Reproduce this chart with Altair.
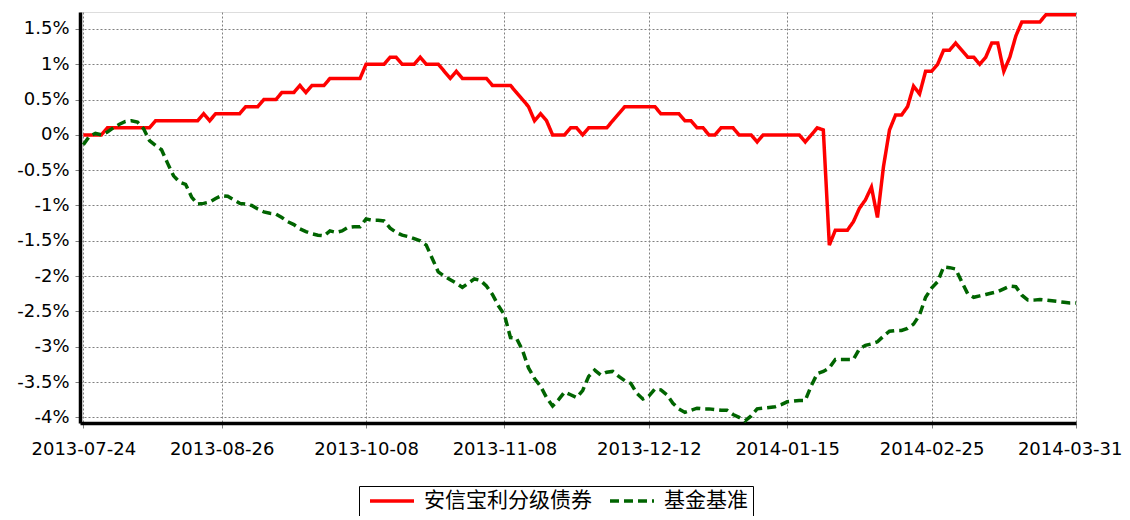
import altair as alt
import pandas as pd

series_names = ["安信宝利分级债券", "基金基准"]
series_colors = ["#FF0000", "#006400"]

tick_index = [0, 23, 47, 70, 94, 117, 141, 165]
tick_labels = ["2013-07-24", "2013-08-26", "2013-10-08", "2013-11-08",
               "2013-12-12", "2014-01-15", "2014-02-25", "2014-03-31"]

fund = [
    0.0, 0.0, 0.0, 0.0, 0.1, 0.1, 0.1, 0.1, 0.1, 0.1,
    0.1, 0.1, 0.2, 0.2, 0.2, 0.2, 0.2, 0.2, 0.2, 0.2,
    0.3, 0.2, 0.3, 0.3, 0.3, 0.3, 0.3, 0.4, 0.4, 0.4,
    0.5, 0.5, 0.5, 0.6, 0.6, 0.6, 0.7, 0.6, 0.7, 0.7,
    0.7, 0.8, 0.8, 0.8, 0.8, 0.8, 0.8, 1.0, 1.0, 1.0,
    1.0, 1.1, 1.1, 1.0, 1.0, 1.0, 1.1, 1.0, 1.0, 1.0,
    0.9, 0.8, 0.9, 0.8, 0.8, 0.8, 0.8, 0.8, 0.7, 0.7,
    0.7, 0.7, 0.6, 0.5, 0.4, 0.2, 0.3, 0.2, 0.0, 0.0,
    0.0, 0.1, 0.1, 0.0, 0.1, 0.1, 0.1, 0.1, 0.2, 0.3,
    0.4, 0.4, 0.4, 0.4, 0.4, 0.4, 0.3, 0.3, 0.3, 0.3,
    0.2, 0.2, 0.1, 0.1, 0.0, 0.0, 0.1, 0.1, 0.1, 0.0,
    0.0, 0.0, -0.1, 0.0, 0.0, 0.0, 0.0, 0.0, 0.0, 0.0,
    -0.1, 0.0, 0.1, 0.07, -1.56, -1.35, -1.35, -1.35, -1.23, -1.04,
    -0.92, -0.74, -1.17, -0.45, 0.07, 0.28, 0.28, 0.4, 0.69, 0.58,
    0.9, 0.9, 1.0, 1.2, 1.2, 1.3, 1.2, 1.1, 1.1, 1.0,
    1.1, 1.3, 1.3, 0.9, 1.1, 1.4, 1.6, 1.6, 1.6, 1.6,
    1.7, 1.7, 1.7, 1.7, 1.7, 1.7,
]

bench = [
    -0.14, -0.02, 0.02, 0.0, 0.04, 0.1, 0.15, 0.19, 0.2, 0.18,
    0.09, -0.08, -0.15, -0.21, -0.4, -0.58, -0.67, -0.7, -0.88, -0.98,
    -0.97, -0.95, -0.9, -0.86, -0.87, -0.92, -0.97, -0.98, -1.0, -1.05,
    -1.09, -1.11, -1.12, -1.17, -1.23, -1.27, -1.33, -1.37, -1.4, -1.42,
    -1.43, -1.36, -1.38, -1.36, -1.31, -1.3, -1.3, -1.19, -1.21, -1.21,
    -1.22, -1.32, -1.38, -1.42, -1.44, -1.47, -1.5, -1.56, -1.75, -1.94,
    -2.0, -2.05, -2.1, -2.16, -2.1, -2.04, -2.06, -2.14, -2.26, -2.42,
    -2.55, -2.87, -2.88, -3.05, -3.3, -3.45, -3.56, -3.72, -3.84, -3.75,
    -3.64, -3.68, -3.72, -3.62, -3.42, -3.33, -3.4, -3.36, -3.35, -3.42,
    -3.48, -3.52, -3.66, -3.74, -3.7, -3.6, -3.61, -3.68, -3.8, -3.88,
    -3.93, -3.9, -3.87, -3.88, -3.88, -3.89, -3.9, -3.9, -3.96, -4.0,
    -4.05, -3.98, -3.88, -3.87, -3.86, -3.85, -3.82, -3.78, -3.77, -3.76,
    -3.76, -3.55, -3.38, -3.35, -3.3, -3.18, -3.18, -3.18, -3.18, -3.03,
    -2.98, -2.96, -2.93, -2.85, -2.78, -2.77, -2.77, -2.74, -2.68, -2.55,
    -2.3, -2.17, -2.08, -1.87, -1.88, -1.9, -2.08, -2.25, -2.3, -2.28,
    -2.26, -2.24, -2.22, -2.18, -2.14, -2.15, -2.27, -2.34, -2.34, -2.33,
    -2.34, -2.35, -2.36, -2.37, -2.38, -2.38,
]

y_ticks = [-4, -3.5, -3, -2.5, -2, -1.5, -1, -0.5, 0, 0.5, 1, 1.5]

rows = []
for name, vals in zip(series_names, [fund, bench]):
    for i, v in enumerate(vals):
        rows.append({"idx": i, "value": v, "series": name})
df = pd.DataFrame(rows)

idx_js = "[" + ",".join(str(t) for t in tick_index) + "]"
lab_js = "[" + ",".join("'" + t + "'" for t in tick_labels) + "]"
x_label_expr = lab_js + "[indexof(" + idx_js + ", datum.value)]"

legend_opts = dict(title=None, orient="none", legendX=279, legendY=474,
                   direction="horizontal",
                   strokeColor="#000000", fillColor="#FFFFFF",
                   padding=5, clipHeight=20,
                   symbolType="stroke", symbolSize=1936,
                   symbolStrokeWidth=3.5, symbolOffset=4,
                   labelFont="Noto Sans CJK SC", labelFontSize=21,
                   labelColor="#000000", labelOffset=8, labelLimit=400,
                   columnPadding=12)

chart = alt.Chart(df).mark_line(strokeWidth=3.5, strokeCap="butt", strokeJoin="miter").encode(
    x=alt.X("idx:Q",
            scale=alt.Scale(domain=[-0.55, 165], nice=False, zero=False),
            axis=alt.Axis(values=tick_index, labelExpr=x_label_expr, title=None,
                          grid=True, gridDash=[2, 2], gridColor="#808080", gridWidth=1,
                          domainColor="#000000", domainWidth=3.5,
                          tickColor="#808080", tickSize=5,
                          labelFont="DejaVu Sans", labelFontSize=18, labelColor="#000000",
                          labelPadding=12, labelFlush=1, labelFlushOffset=46)),
    y=alt.Y("value:Q",
            scale=alt.Scale(domain=[-4.08, 1.74], nice=False, zero=False),
            axis=alt.Axis(values=y_ticks, labelExpr="datum.value + '%'", title=None,
                          grid=True, gridDash=[2, 2], gridColor="#808080", gridWidth=1,
                          domainColor="#000000", domainWidth=3.5,
                          tickColor="#808080", tickSize=5,
                          labelFont="DejaVu Sans", labelFontSize=18, labelColor="#000000",
                          labelPadding=6)),
    color=alt.Color("series:N",
                    scale=alt.Scale(domain=series_names, range=series_colors),
                    legend=alt.Legend(**legend_opts)),
    strokeDash=alt.StrokeDash("series:N",
                              scale=alt.Scale(domain=series_names, range=[[1, 0], [9, 5]]),
                              legend=alt.Legend(**legend_opts)),
    order="idx:Q",
).properties(
    width=996, height=411,
    autosize=alt.AutoSizeParams(type="none"),
    padding={"left": 72, "top": 4, "right": 46, "bottom": 93},
).configure_view(stroke=None).configure(background="#FFFFFF")

chart.save("out.html", embed_options={"renderer": "svg", "actions": False})
